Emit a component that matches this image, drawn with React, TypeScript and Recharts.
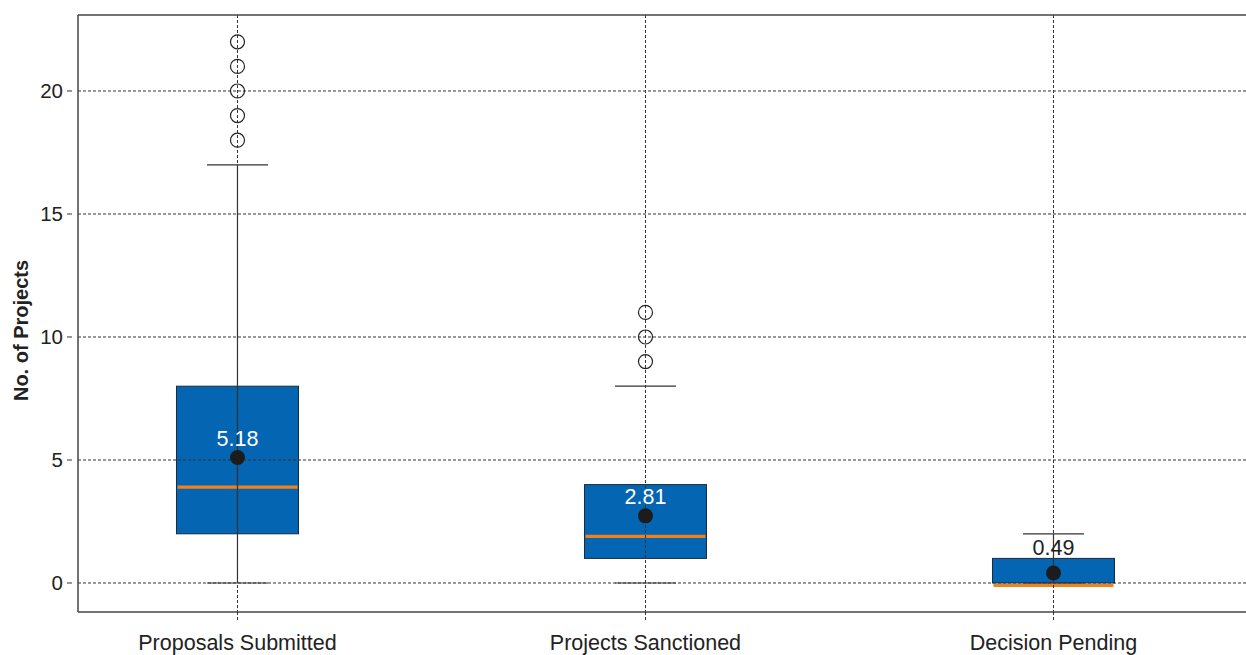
// Box plot of project counts per stage, drawn with Recharts range bars.
import { Bar, CartesianGrid, ComposedChart, Scatter, XAxis, YAxis } from "recharts";

const categories = ["Proposals Submitted", "Projects Sanctioned", "Decision Pending"];
const whiskerLow = [0, 0, 0];
const quartile1 = [2, 1, 0];
const medians = [4, 2, 0];
const quartile3 = [8, 4, 1];
const whiskerHigh = [17, 8, 2];
const means = [5.18, 2.81, 0.49];
const drawStem = [true, false, true];
const outlierValues = [[18, 19, 20, 21, 22], [9, 10, 11], []];
const yTicks = [0, 5, 10, 15, 20];

const FONT = '"Liberation Sans", Arial, sans-serif';
const BOX_FILL = "#0465B2";
const MEDIAN = "#F0821E";
const INK = "#222";

const rows = categories.map((name, i) => ({
  x: i,
  name,
  lo: whiskerLow[i],
  q1: quartile1[i],
  med: medians[i],
  q3: quartile3[i],
  hi: whiskerHigh[i],
  mean: means[i],
  stem: drawStem[i],
}));

const outliers = outlierValues.flatMap((vals, i) => vals.map((v) => ({ x: i, y: v })));

function toPx(p: any, v: number) {
  const top = Math.min(p.y, p.y + p.height);
  const h = Math.abs(p.height);
  const d = p.payload;
  return top + (h * (d.hi - v)) / (d.hi - d.lo);
}

function BoxShape(p: any) {
  const d = p.payload;
  const top = toPx(p, d.q3);
  const bottom = toPx(p, d.q1);
  const med = toPx(p, d.med) + 2.5;
  return (
    <g>
      <rect x={p.x} y={top} width={p.width} height={bottom - top} fill={BOX_FILL} stroke="#1b2a3a" strokeWidth={1} />
      <line x1={p.x + 1} x2={p.x + p.width - 1} y1={med} y2={med} stroke={MEDIAN} strokeWidth={3.2} />
    </g>
  );
}

function WhiskerShape(p: any) {
  const d = p.payload;
  const cx = p.x + p.width / 2;
  const half = p.width / 4;
  const hiY = toPx(p, d.hi);
  const loY = toPx(p, d.lo);
  const meanY = toPx(p, d.mean) + 2;
  const q3Y = toPx(p, d.q3);
  let base = meanY - 12;
  let color = "#fff";
  if (base - 15 < q3Y) {
    base = q3Y - 3;
    color = INK;
  }
  return (
    <g>
      {d.stem && <line x1={cx} x2={cx} y1={hiY} y2={loY} stroke="#333" strokeWidth={1.2} />}
      <line x1={cx - half} x2={cx + half} y1={hiY} y2={hiY} stroke="#333" strokeWidth={1.2} />
      <line x1={cx - half} x2={cx + half} y1={loY} y2={loY} stroke="#333" strokeWidth={1.2} />
      <circle cx={cx} cy={meanY} r={7.5} fill="#1c1c1c" />
      <text x={cx} y={base} textAnchor="middle" fill={color} fontSize={21.5} fontFamily={FONT}>
        {d.mean.toFixed(2)}
      </text>
    </g>
  );
}

function OutlierShape(p: any) {
  return <circle cx={p.cx} cy={p.cy} r={7} fill="none" stroke={INK} strokeWidth={1.2} />;
}

function XTick({ x, y, payload }: any) {
  return (
    <g>
      <line x1={x} x2={x} y1={y} y2={y + 9} stroke="#333" strokeDasharray="3 2" />
      <text x={x} y={y + 38} textAnchor="middle" fill={INK} fontSize={21.5} fontFamily={FONT}>
        {categories[payload.value]}
      </text>
    </g>
  );
}

function YTick({ x, y, payload }: any) {
  return (
    <g>
      <line x1={x - 11} x2={x - 6} y1={y} y2={y} stroke="#333" strokeWidth={1} />
      <text x={x - 15} y={y} dy="0.35em" textAnchor="end" fill={INK} fontSize={20.5} fontFamily={FONT}>
        {payload.value}
      </text>
    </g>
  );
}

function YLabel({ viewBox }: any) {
  const cx = 21;
  const cy = viewBox.y + viewBox.height / 2 + 17;
  return (
    <text
      x={cx}
      y={cy}
      transform={`rotate(-90, ${cx}, ${cy})`}
      textAnchor="middle"
      dy="0.35em"
      fill={INK}
      fontSize={20}
      fontWeight="bold"
      fontFamily={FONT}
    >
      No. of Projects
    </text>
  );
}

export default function App() {
  return (
    <div style={{ position: "fixed", left: 0, top: 0, width: 1246, height: 655, overflow: "hidden", background: "#fff" }}>
      <ComposedChart width={1300} height={655} data={rows} margin={{ top: 13, right: 0, bottom: 0, left: 0 }}>
        <XAxis
          xAxisId="a"
          dataKey="x"
          type="number"
          domain={[-0.3909, 2.6042]}
          allowDataOverflow
          ticks={[0, 1, 2]}
          tick={<XTick />}
          tickLine={false}
          tickSize={0}
          tickMargin={0}
          height={43}
          axisLine={{ stroke: "#444", strokeWidth: 1.5 }}
        />
        <XAxis
          xAxisId="b"
          dataKey="x"
          type="number"
          orientation="top"
          domain={[-0.3909, 2.6042]}
          allowDataOverflow
          ticks={[0, 1, 2]}
          tick={false}
          tickLine={false}
          height={2}
          axisLine={{ stroke: "#444", strokeWidth: 1.5 }}
        />
        <YAxis
          type="number"
          domain={[-1.179, 23.089]}
          allowDataOverflow
          ticks={yTicks}
          tick={<YTick />}
          tickLine={false}
          tickSize={0}
          tickMargin={0}
          width={78}
          axisLine={{ stroke: "#444", strokeWidth: 1.5 }}
          label={<YLabel />}
        />
        <Bar
          xAxisId="a"
          dataKey={(d: any) => [d.lo, d.hi]}
          barSize={122}
          shape={<BoxShape />}
          isAnimationActive={false}
          zIndex={0}
        />
        <CartesianGrid xAxisId="a" stroke="#333" strokeDasharray="3 2" syncWithTicks zIndex={50} />
        <Bar
          xAxisId="b"
          dataKey={(d: any) => [d.lo, d.hi]}
          barSize={122}
          shape={<WhiskerShape />}
          isAnimationActive={false}
          zIndex={100}
        />
        <Scatter xAxisId="b" data={outliers} dataKey="y" shape={<OutlierShape />} isAnimationActive={false} zIndex={100} />
      </ComposedChart>
    </div>
  );
}
